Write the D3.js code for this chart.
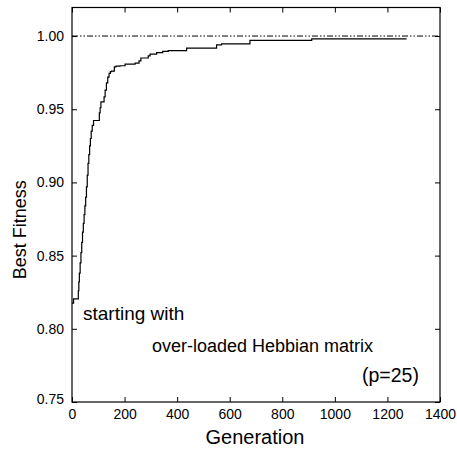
<!DOCTYPE html>
<html><head><meta charset="utf-8">
<script src="https://cdn.jsdelivr.net/npm/d3@7"></script>
<style>
html,body{margin:0;padding:0;background:#fff;}
text{font-family:"Liberation Sans",Arial,Helvetica,sans-serif;fill:#000;}
</style></head>
<body>
<svg id="c" width="457" height="457"></svg>
<script>
// Generation at which best fitness changes (step-after), and the value
const generations = [0, 6, 24, 26, 28, 31, 34, 37, 40, 43, 46, 49, 52, 55, 58, 61, 64, 67, 70, 73, 77, 82,
  104, 107, 110, 122, 126, 131, 136, 141, 146, 151, 161, 167, 183, 202, 240, 255, 262, 290, 297, 322, 345, 366,
  436, 550, 569, 677, 912, 1273];
const bestFitness = [0.8175, 0.8204, 0.826, 0.832, 0.838, 0.845, 0.852, 0.859, 0.866, 0.872, 0.878, 0.884, 0.890, 0.897, 0.905, 0.913, 0.919, 0.925, 0.930, 0.935, 0.939, 0.9423,
  0.9475, 0.951, 0.955, 0.9585, 0.963, 0.968, 0.972, 0.9745, 0.9757, 0.976, 0.979, 0.9795, 0.9797, 0.9808, 0.9815, 0.983, 0.985, 0.9865, 0.9876, 0.9887, 0.9895, 0.9901,
  0.9917, 0.994, 0.9947, 0.997, 0.998, 0.998];
const optimum = [1.0];
const xTicks = [0, 200, 400, 600, 800, 1000, 1200, 1400];
const yTicks = [0.75, 0.80, 0.85, 0.90, 0.95, 1.00];
const xTitle = "Generation";
const yTitle = "Best Fitness";
const notes = ["starting with", "over-loaded Hebbian matrix", "(p=25)"];

const svg = d3.select("#c");
const L = 72, R = 440, T = 7.5, B = 402;
const x = d3.scaleLinear().domain([0, 1400]).range([L, R]);
const y = d3.scaleLinear().domain([0.75, 1.0195]).range([B, T]);

const data = generations.map((g, i) => ({g, v: bestFitness[i]}));

// optimum reference line (dash-dot-dot)
svg.append("line")
  .attr("x1", x(0)).attr("x2", x(1400))
  .attr("y1", y(optimum[0])).attr("y2", y(optimum[0]))
  .attr("stroke", "#000").attr("stroke-width", 1)
  .attr("stroke-dasharray", "6,2,1.5,2,1.5,2");

// curve
svg.append("path").datum(data)
  .attr("fill", "none").attr("stroke", "#000").attr("stroke-width", 1.2)
  .attr("d", d3.line().x(d => x(d.g)).y(d => y(d.v)).curve(d3.curveStepAfter));

// axes
const tickLen = 5;
const ax = svg.append("g").attr("transform", `translate(0,${B})`)
  .call(d3.axisBottom(x).tickValues(xTicks).tickSizeInner(-tickLen).tickSizeOuter(0).tickPadding(7).tickFormat(d3.format("d")));
const axTop = svg.append("g").attr("transform", `translate(0,${T})`)
  .call(d3.axisTop(x).tickValues(xTicks).tickSizeInner(-tickLen).tickSizeOuter(0).tickFormat(""));
const ay = svg.append("g").attr("transform", `translate(${L},0)`)
  .call(d3.axisLeft(y).tickValues(yTicks).tickSizeInner(-tickLen).tickSizeOuter(0).tickPadding(8).tickFormat(d3.format(".2f")));
const ayR = svg.append("g").attr("transform", `translate(${R},0)`)
  .call(d3.axisRight(y).tickValues(yTicks).tickSizeInner(-tickLen).tickSizeOuter(0).tickFormat(""));
[ax, axTop, ay, ayR].forEach(g => {
  g.select(".domain").remove();
  g.selectAll("line").attr("stroke", "#000").attr("stroke-width", 1);
  g.selectAll("text").attr("font-size", 14).attr("fill", "#000")
    .style("font-family", '"Liberation Sans",Arial,sans-serif');
});
ay.selectAll(".tick").filter(d => d === 0.75).select("text").attr("dy", "0.1em");

// frame
svg.append("rect").attr("x", L).attr("y", T).attr("width", R - L).attr("height", B - T)
  .attr("fill", "none").attr("stroke", "#000").attr("stroke-width", 1.2);

// axis titles
svg.append("text").attr("x", (L + R) / 2 - 1).attr("y", 444).attr("text-anchor", "middle")
  .attr("font-size", 20).text(xTitle);
svg.append("text").attr("transform", `translate(26,${(T + B) / 2 + 25}) rotate(-90)`)
  .attr("text-anchor", "middle").attr("font-size", 18).text(yTitle);

// annotations
svg.append("text").attr("x", 83).attr("y", 320).attr("font-size", 19).text(notes[0]);
svg.append("text").attr("x", 152).attr("y", 352).attr("font-size", 18).text(notes[1]);
svg.append("text").attr("x", 362).attr("y", 382).attr("font-size", 19.5).text(notes[2]);
</script>
</body></html>
